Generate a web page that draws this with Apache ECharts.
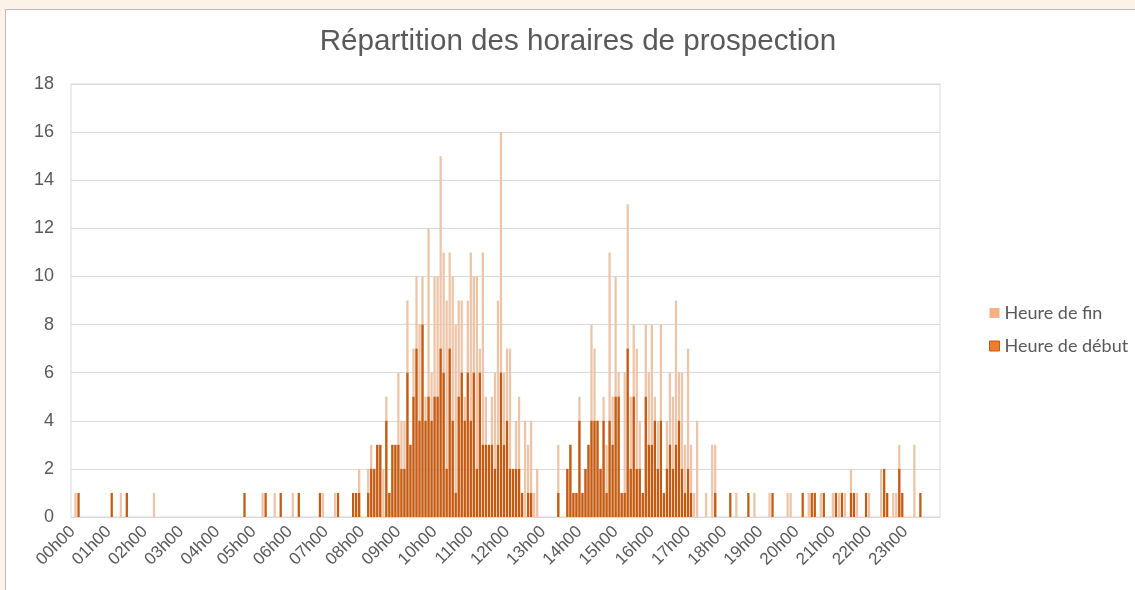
<!DOCTYPE html>
<html><head><meta charset="utf-8">
<script src="https://cdn.jsdelivr.net/npm/echarts@6/dist/echarts.min.js"></script>
<style>
html,body{margin:0;padding:0;background:#FDF2E7;overflow:hidden;}
#frame{position:absolute;left:5px;top:9px;width:1200px;height:700px;background:#fff;border:1px solid #BDBDBD;}
#main{position:absolute;left:0;top:0;width:1135px;height:590px;}
</style></head><body>
<div id="frame"></div><div id="main"></div>
<script>
// Bins of 5 minutes, one row = one hour (12 bins)
const heureFin = [
  0,1,0,0,0,0,0,0,0,0,0,0,   // 00h
  0,0,0,0,1,0,0,0,0,0,0,0,   // 01h
  0,0,0,1,0,0,0,0,0,0,0,0,   // 02h
  0,0,0,0,0,0,0,0,0,0,0,0,   // 03h
  0,0,0,0,0,0,0,0,0,0,0,0,   // 04h
  0,0,0,1,0,0,0,1,0,0,0,0,   // 05h
  0,1,0,0,0,0,0,0,0,0,0,1,   // 06h
  0,0,0,1,0,0,0,0,0,0,0,2,   // 07h
  0,0,2,3,2,3,3,2,5,1,3,3,   // 08h
  6,4,4,9,3,7,10,8,10,5,12,6, // 09h
  10,10,15,11,9,11,10,8,9,9,5,9, // 10h
  11,10,10,7,11,5,3,5,6,9,16,6,  // 11h
  7,7,2,4,5,1,4,3,4,1,2,0,   // 12h
  0,0,0,0,0,3,0,0,2,3,1,1,   // 13h
  5,1,2,3,8,7,4,2,5,3,11,5,  // 14h
  10,6,1,6,13,5,8,7,4,1,8,6, // 15h
  8,5,4,8,1,4,6,5,9,6,6,3,   // 16h
  7,3,1,4,0,0,1,0,3,3,0,0,   // 17h
  0,0,0,0,1,0,0,0,0,0,1,0,   // 18h
  0,0,0,1,0,0,0,0,0,1,1,0,   // 19h
  0,0,0,0,1,0,0,0,1,0,0,0,   // 20h
  1,0,1,0,1,0,2,0,1,0,0,0,   // 21h
  1,0,0,0,2,0,0,0,1,1,3,0,   // 22h
  0,0,0,3,0,0,0,0,0,0,0,0    // 23h
];
const heureDebut = [
  0,0,1,0,0,0,0,0,0,0,0,0,   // 00h
  0,1,0,0,0,0,1,0,0,0,0,0,   // 01h
  0,0,0,0,0,0,0,0,0,0,0,0,   // 02h
  0,0,0,0,0,0,0,0,0,0,0,0,   // 03h
  0,0,0,0,0,0,0,0,0,1,0,0,   // 04h
  0,0,0,0,1,0,0,0,0,1,0,0,   // 05h
  0,0,0,1,0,0,0,0,0,0,1,0,   // 06h
  0,0,0,0,1,0,0,0,0,1,1,1,   // 07h
  0,0,1,2,2,3,3,0,4,1,3,3,   // 08h
  3,2,2,6,3,5,7,4,8,4,5,4,   // 09h
  5,5,7,6,2,7,4,1,5,6,4,6,   // 10h
  4,6,2,6,3,3,3,3,2,3,6,3,   // 11h
  4,2,2,2,2,1,0,1,1,0,0,0,   // 12h
  0,0,0,0,0,1,0,0,2,3,1,1,   // 13h
  4,1,2,3,4,4,4,2,4,1,4,3,   // 14h
  5,5,1,1,7,2,5,2,2,1,5,3,   // 15h
  3,4,2,4,1,2,3,2,3,4,2,1,   // 16h
  2,1,0,0,0,0,0,0,0,1,0,0,   // 17h
  0,0,1,0,0,0,0,0,1,0,0,0,   // 18h
  0,0,0,0,1,0,0,0,0,0,0,0,   // 19h
  0,0,1,0,0,1,1,0,0,1,0,0,   // 20h
  0,1,0,1,0,0,1,1,0,0,0,1,   // 21h
  0,0,0,0,0,2,1,0,0,0,2,1,   // 22h
  0,0,0,0,0,1,0,0,0,0,0,0    // 23h
];
const yTicks = {min: 0, max: 18, interval: 2};
const seriesNames = ['Heure de fin', 'Heure de début'];
const titleText = 'Répartition des horaires de prospection';

const categories = [];
for (let h = 0; h < 24; h++) {
  for (let m = 0; m < 60; m += 5) {
    categories.push(String(h).padStart(2,'0') + 'h' + String(m).padStart(2,'0'));
  }
}

const chart = echarts.init(document.getElementById('main'), null, {renderer: 'canvas'});
const font = "'Liberation Sans', Arial, sans-serif";
chart.setOption({
  animation: false,
  graphic: [{
    type: 'text', x: 578, y: 42,
    style: {text: titleText, align: 'center', verticalAlign: 'middle',
      fontSize: 29.6, fontFamily: font, fill: '#595959'}
  }],
  legend: {
    orient: 'vertical', left: 984, top: 299,
    itemWidth: 10, itemHeight: 10, itemGap: 15,
    textStyle: {fontSize: 18, fontFamily: "Lato, 'Open Sans', sans-serif", color: '#595959'},
    data: [
      {name: seriesNames[0], icon: 'rect', itemStyle: {color: '#F4B183', borderWidth: 0}},
      {name: seriesNames[1], icon: 'rect', itemStyle: {color: '#ED7D31', borderColor: '#C55A11', borderWidth: 1}}
    ]
  },
  grid: {left: 71, right: 195, top: 84, bottom: 73, show: true, borderColor: '#D9D9D9', borderWidth: 1},
  xAxis: {
    type: 'category', data: categories,
    axisLine: {lineStyle: {color: '#D9D9D9'}},
    axisTick: {show: false},
    axisLabel: {interval: 11, rotate: 45, margin: 12, color: '#595959', fontSize: 17, fontFamily: font}
  },
  yAxis: {
    type: 'value', min: yTicks.min, max: yTicks.max, interval: yTicks.interval,
    axisLine: {show: false}, axisTick: {show: false},
    splitLine: {lineStyle: {color: '#D9D9D9'}},
    axisLabel: {margin: 17, color: '#595959', fontSize: 18, fontFamily: font}
  },
  series: [
    {name: seriesNames[0], type: 'bar', data: heureFin, barGap: '-100%', barCategoryGap: '25%',
      itemStyle: {color: '#EDC4A7'}},
    {name: seriesNames[1], type: 'bar', data: heureDebut, barGap: '-100%', barCategoryGap: '25%',
      itemStyle: {color: '#C55A11'}}
  ]
});
</script></body></html>
